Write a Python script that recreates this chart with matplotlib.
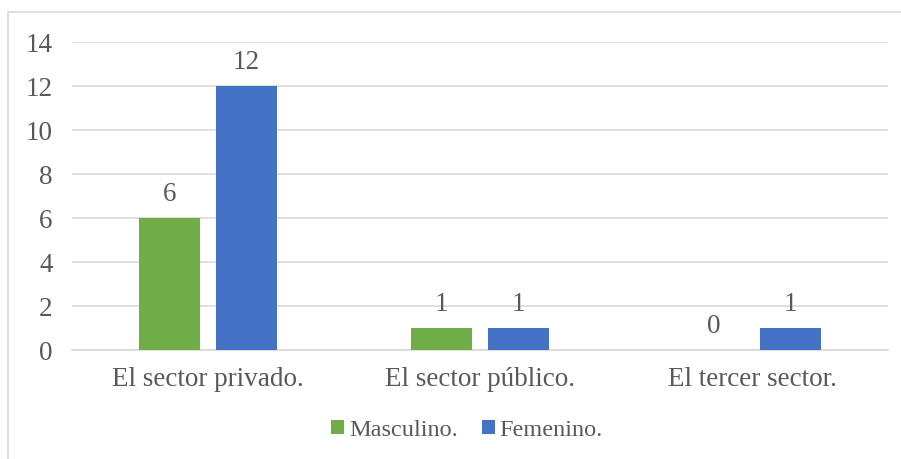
import matplotlib.pyplot as plt
from matplotlib.patches import Rectangle
import numpy as np

categorias = ["El sector privado.", "El sector público.", "El tercer sector."]
masculino = [6, 1, 0]
femenino = [12, 1, 1]
series = ["Masculino.", "Femenino."]

plt.rcParams['font.family'] = ['Liberation Serif', 'DejaVu Serif']
gris = '#595959'
fs = 19.5

fig = plt.figure(figsize=(9.01, 4.59), dpi=100)
fig.patches.append(Rectangle((8/901, -0.01), 1.0, 1 - 12/459 + 0.01, transform=fig.transFigure,
                             fill=False, edgecolor='#D9D9D9', linewidth=1.2))
ax = fig.add_axes([72/901, 1 - 350/459, 816/901, 308/459])

x = np.arange(len(categorias))
w = 0.224
off = 0.142
b1 = ax.bar(x - off, masculino, w, color='#70AD47', label=series[0], zorder=3)
b2 = ax.bar(x + off, femenino, w, color='#4472C4', label=series[1], zorder=3)
for bars in (b1, b2):
    ax.bar_label(bars, padding=8, fontsize=fs, color=gris)

ax.set_xlim(-0.5, 2.5)
ax.set_ylim(0, 14)
ax.set_yticks(range(0, 15, 2))
ax.set_xticks(x)
ax.set_xticklabels(categorias)
ax.tick_params(axis='both', length=0, labelsize=fs, labelcolor=gris)
ax.tick_params(axis='y', pad=14)
ax.tick_params(axis='x', pad=12)
ax.grid(axis='y', color='#D9D9D9', linewidth=1.2, zorder=0)
for s in ['top', 'right', 'left']:
    ax.spines[s].set_visible(False)
ax.spines['bottom'].set_color('#D9D9D9')
ax.spines['bottom'].set_linewidth(1.2)

fig.legend(loc='center', bbox_to_anchor=(467/901, 1 - 430/459), ncol=2, frameon=False,
           fontsize=17.5, labelcolor=gris, handlelength=0.53, handleheight=0.53,
           handletextpad=0.2, columnspacing=1.0)

fig.savefig('out.png', dpi=100)
